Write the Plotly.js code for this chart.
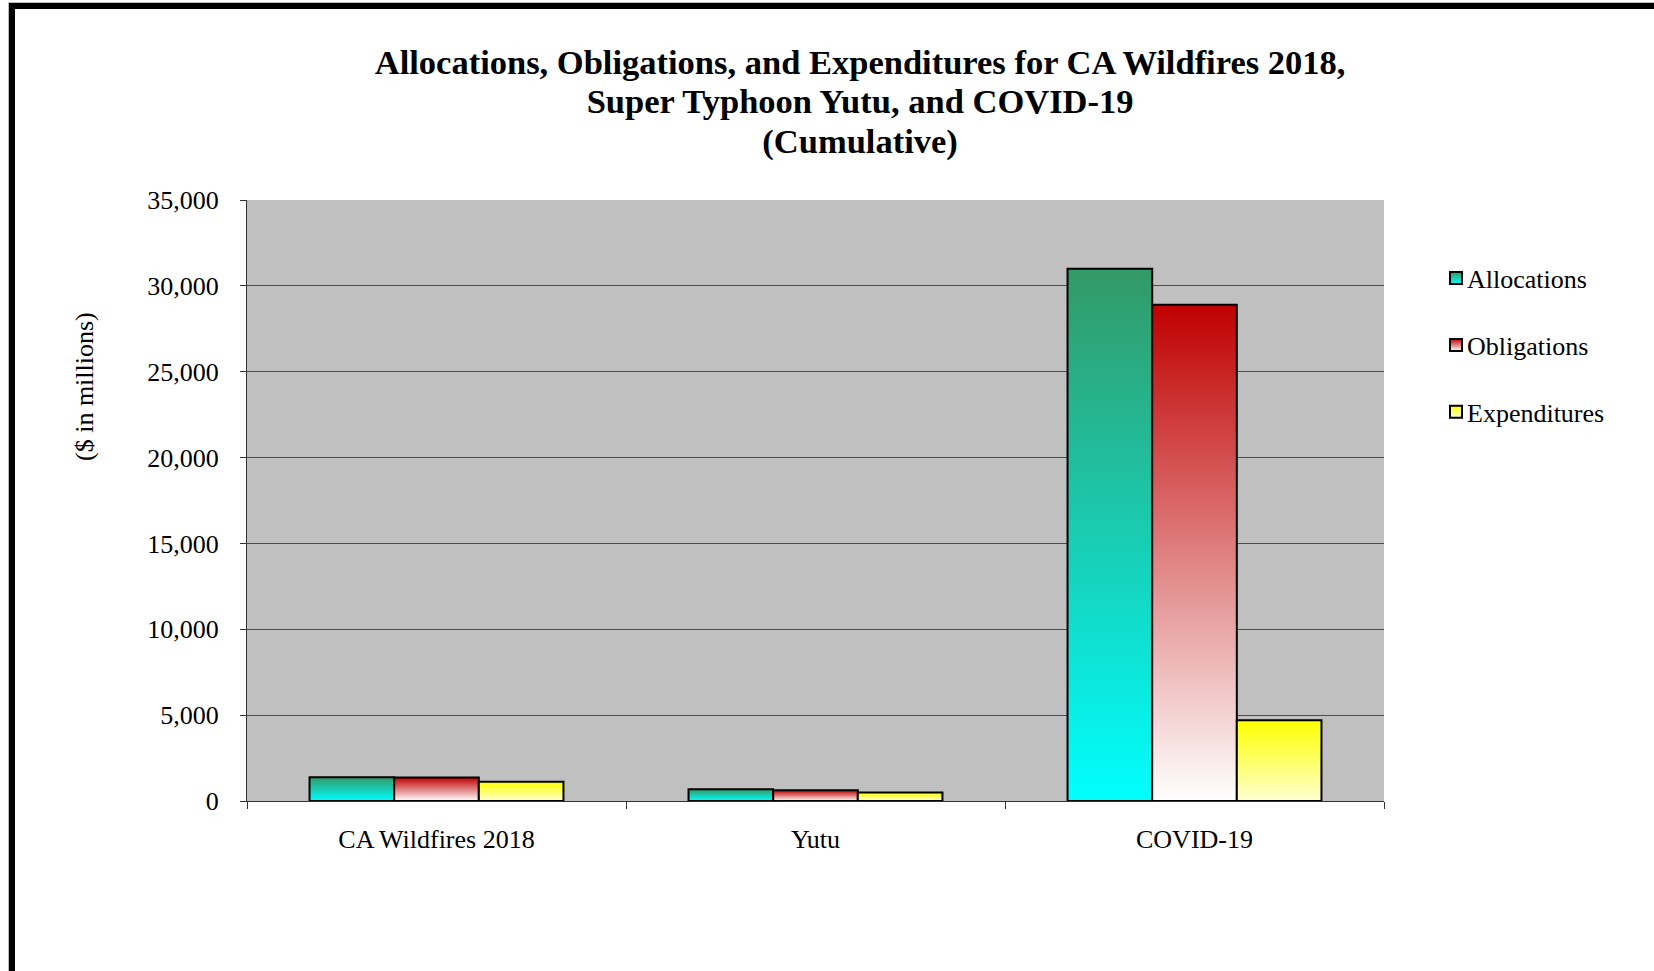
<!DOCTYPE html>
<html>
<head>
<meta charset="utf-8">
<script src="https://cdn.plot.ly/plotly-3.0.1.min.js"></script>
<style>
  html, body { margin: 0; padding: 0; background: #fff; overflow: hidden; }
  #chart { position: absolute; left: 0; top: 0; width: 1654px; height: 971px; }
  #frame { position: absolute; left: 9px; top: 3px; width: 1700px; height: 1100px;
           border-left: 6px solid #000; border-top: 6px solid #000;
           box-shadow: -1px -1px 0 #bbb; pointer-events: none; }
</style>
</head>
<body>
<div id="chart"></div>
<div id="frame"></div>
<script>
const categories = ['CA Wildfires 2018', 'Yutu', 'COVID-19'];
const allocations = [1390, 680, 31000];
const obligations = [1370, 620, 28900];
const expenditures = [1120, 500, 4700];
const seriesNames = ['Allocations', 'Obligations', 'Expenditures'];
const yTickVals = [0, 5000, 10000, 15000, 20000, 25000, 30000, 35000];

const topColors = ['#339966', '#C00000', '#FFFF00'];
const bottomColors = ['#00FFFF', '#FFFFFF', '#FFFFD0'];
const seriesValues = [allocations, obligations, expenditures];

const FONT = 'Liberation Serif, Times New Roman, serif';
const PLOT_L = 247, PLOT_R = 1384, PLOT_T = 200, PLOT_B = 801;

const traces = seriesValues.map((vals, i) => ({
  type: 'bar',
  name: seriesNames[i],
  x: categories,
  y: vals,
  legendgroup: 'g' + i,
  marker: { color: topColors[i], line: { color: '#000', width: 2 } },
  hoverinfo: 'none'
}));

const layout = {
  width: 1654,
  height: 971,
  paper_bgcolor: '#ffffff',
  plot_bgcolor: '#C0C0C0',
  margin: { l: PLOT_L, r: 1654 - PLOT_R, t: PLOT_T, b: 971 - PLOT_B, autoexpand: false },
  barmode: 'group',
  bargap: 0.33,
  bargroupgap: 0,
  font: { family: FONT, color: '#000', size: 26 },
  title: {
    text: '<b>Allocations, Obligations, and Expenditures for CA Wildfires 2018,<br>Super Typhoon Yutu, and COVID-19<br>(Cumulative)</b>',
    font: { family: FONT, size: 34.5, color: '#000' },
    xref: 'container', x: 0.52, xanchor: 'center',
    yref: 'container', y: 0.924, yanchor: 'top'
  },
  xaxis: {
    type: 'category',
    showline: true, linecolor: '#333', linewidth: 1,
    ticks: 'outside', tickson: 'boundaries', ticklen: 7, tickcolor: '#333',
    tickfont: { family: FONT, size: 26, color: '#000' },
    ticklabelstandoff: 15,
    showgrid: false, zeroline: false
  },
  yaxis: {
    range: [0, 35000],
    tickvals: yTickVals,
    tickformat: ',d',
    showline: true, linecolor: '#333', linewidth: 1,
    ticks: 'outside', ticklen: 6, tickcolor: '#333',
    tickfont: { family: FONT, size: 26, color: '#000' },
    ticklabelstandoff: 16,
    showgrid: true, gridcolor: '#4d4d4d', gridwidth: 1,
    zeroline: false
  },
  legend: {
    x: (1427 - PLOT_L) / (PLOT_R - PLOT_L), xanchor: 'left',
    y: 0.909, yanchor: 'top',
    xref: 'paper', yref: 'paper',
    traceorder: 'grouped',
    tracegroupgap: 30,
    bgcolor: 'rgba(0,0,0,0)',
    font: { family: FONT, size: 26, color: '#000' }
  },
  annotations: [{
    text: '($ in millions)',
    xref: 'paper', yref: 'paper',
    x: (84 - PLOT_L) / (PLOT_R - PLOT_L), y: (PLOT_B - 387) / (PLOT_B - PLOT_T),
    xanchor: 'center', yanchor: 'middle',
    textangle: -90, showarrow: false,
    font: { family: FONT, size: 26, color: '#000' }
  }],
  showlegend: true
};

Plotly.newPlot('chart', traces, layout, { displayModeBar: false, staticPlot: true }).then(gd => {
  const svgNS = 'http://www.w3.org/2000/svg';
  const svg = gd.querySelector('svg.main-svg');
  let defs = svg.querySelector('defs');
  if (!defs) { defs = document.createElementNS(svgNS, 'defs'); svg.insertBefore(defs, svg.firstChild); }
  topColors.forEach((c, i) => {
    const g = document.createElementNS(svgNS, 'linearGradient');
    g.setAttribute('id', 'barGrad' + i);
    g.setAttribute('x1', '0'); g.setAttribute('y1', '0');
    g.setAttribute('x2', '0'); g.setAttribute('y2', '1');
    const s1 = document.createElementNS(svgNS, 'stop');
    s1.setAttribute('offset', '0'); s1.setAttribute('stop-color', c);
    const s2 = document.createElementNS(svgNS, 'stop');
    s2.setAttribute('offset', '1'); s2.setAttribute('stop-color', bottomColors[i]);
    g.appendChild(s1); g.appendChild(s2);
    defs.appendChild(g);
  });
  gd.querySelectorAll('.barlayer .trace.bars').forEach((tr, i) => {
    tr.querySelectorAll('path').forEach(p => { p.style.fill = 'url(#barGrad' + i + ')'; });
  });
  gd.querySelectorAll('.legend .traces').forEach((tr, i) => {
    tr.querySelectorAll('.legendpoints path').forEach(p => { p.style.fill = 'url(#barGrad' + i + ')'; });
    const lp = tr.querySelector('.legendpoints');
    if (lp) lp.setAttribute('transform', 'translate(9,0)');
  });
  // tighten title line spacing to match the reference
  gd.querySelectorAll('.gtitle tspan.line').forEach(t => {
    const dy = t.getAttribute('dy');
    if (dy && dy.endsWith('em')) t.setAttribute('dy', (parseFloat(dy) * 1.15 / 1.3) + 'em');
  });
});
</script>
</body>
</html>
